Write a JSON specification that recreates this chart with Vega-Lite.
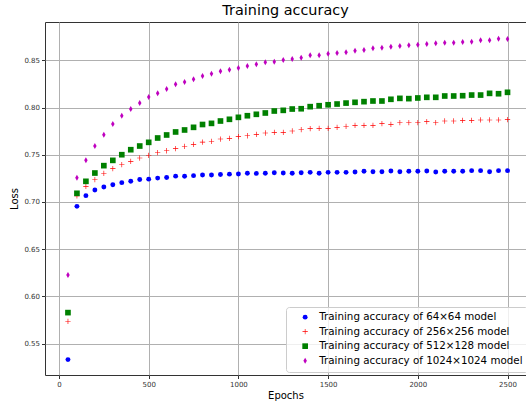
{
  "$schema": "https://vega.github.io/schema/vega-lite/v6.json",
  "width": 481,
  "height": 353,
  "autosize": {"type": "none"},
  "padding": {"left": 45, "top": 22, "right": 0, "bottom": 27},
  "background": "white",
  "title": {"text": "Training accuracy", "fontSize": 14.4, "font": "DejaVu Sans", "fontWeight": "normal", "color": "black", "offset": 4, "anchor": "middle"},
  "config": {
    "view": {"stroke": "#333333", "strokeWidth": 1},
    "font": "DejaVu Sans",
    "axis": {"labelFont": "DejaVu Sans", "labelFontSize": 7, "labelColor": "#333333", "tickColor": "#333333", "tickSize": 3.5, "domain": false, "grid": true, "gridColor": "#b0b0b0", "gridWidth": 1, "titleFont": "DejaVu Sans", "titleFontSize": 10, "titleFontWeight": "normal", "titleColor": "black", "labelPadding": 2},
    "legend": {"orient": "none", "legendX": 241, "legendY": 285, "fillColor": "rgba(255,255,255,0.8)", "strokeColor": "#cccccc", "cornerRadius": 3, "padding": 5, "labelFont": "DejaVu Sans", "labelFontSize": 10.3, "labelColor": "black", "labelLimit": 0, "rowPadding": 2.5, "labelOffset": 9, "symbolOffset": 9, "symbolOpacity": 1}
  },
  "data": {"values": [
    {"epoch":50,"model":"64×64","acc":0.533},{"epoch":100,"model":"64×64","acc":0.6954},{"epoch":150,"model":"64×64","acc":0.7067},{"epoch":200,"model":"64×64","acc":0.7127},{"epoch":250,"model":"64×64","acc":0.7159},{"epoch":300,"model":"64×64","acc":0.7183},{"epoch":350,"model":"64×64","acc":0.7205},{"epoch":400,"model":"64×64","acc":0.7219},{"epoch":450,"model":"64×64","acc":0.7238},{"epoch":500,"model":"64×64","acc":0.7242},
    {"epoch":550,"model":"64×64","acc":0.7253},{"epoch":600,"model":"64×64","acc":0.726},{"epoch":650,"model":"64×64","acc":0.7274},{"epoch":700,"model":"64×64","acc":0.7273},{"epoch":750,"model":"64×64","acc":0.7279},{"epoch":800,"model":"64×64","acc":0.7286},{"epoch":850,"model":"64×64","acc":0.7286},{"epoch":900,"model":"64×64","acc":0.7292},{"epoch":950,"model":"64×64","acc":0.7295},{"epoch":1000,"model":"64×64","acc":0.7296},
    {"epoch":1050,"model":"64×64","acc":0.7304},{"epoch":1100,"model":"64×64","acc":0.7303},{"epoch":1150,"model":"64×64","acc":0.7304},{"epoch":1200,"model":"64×64","acc":0.731},{"epoch":1250,"model":"64×64","acc":0.7307},{"epoch":1300,"model":"64×64","acc":0.7304},{"epoch":1350,"model":"64×64","acc":0.731},{"epoch":1400,"model":"64×64","acc":0.7314},{"epoch":1450,"model":"64×64","acc":0.7304},{"epoch":1500,"model":"64×64","acc":0.7314},
    {"epoch":1550,"model":"64×64","acc":0.7314},{"epoch":1600,"model":"64×64","acc":0.7314},{"epoch":1650,"model":"64×64","acc":0.7318},{"epoch":1700,"model":"64×64","acc":0.7325},{"epoch":1750,"model":"64×64","acc":0.7321},{"epoch":1800,"model":"64×64","acc":0.7321},{"epoch":1850,"model":"64×64","acc":0.7328},{"epoch":1900,"model":"64×64","acc":0.7321},{"epoch":1950,"model":"64×64","acc":0.7325},{"epoch":2000,"model":"64×64","acc":0.7325},
    {"epoch":2050,"model":"64×64","acc":0.7328},{"epoch":2100,"model":"64×64","acc":0.7318},{"epoch":2150,"model":"64×64","acc":0.7325},{"epoch":2200,"model":"64×64","acc":0.7325},{"epoch":2250,"model":"64×64","acc":0.7325},{"epoch":2300,"model":"64×64","acc":0.7332},{"epoch":2350,"model":"64×64","acc":0.7332},{"epoch":2400,"model":"64×64","acc":0.7321},{"epoch":2450,"model":"64×64","acc":0.7332},{"epoch":2500,"model":"64×64","acc":0.7332},

    {"epoch":50,"model":"256×256","acc":0.5736},{"epoch":100,"model":"256×256","acc":0.7064},{"epoch":150,"model":"256×256","acc":0.7166},{"epoch":200,"model":"256×256","acc":0.7236},{"epoch":250,"model":"256×256","acc":0.7304},{"epoch":300,"model":"256×256","acc":0.7353},{"epoch":350,"model":"256×256","acc":0.7395},{"epoch":400,"model":"256×256","acc":0.7431},{"epoch":450,"model":"256×256","acc":0.7466},{"epoch":500,"model":"256×256","acc":0.7495},
    {"epoch":550,"model":"256×256","acc":0.7522},{"epoch":600,"model":"256×256","acc":0.7543},{"epoch":650,"model":"256×256","acc":0.7565},{"epoch":700,"model":"256×256","acc":0.759},{"epoch":750,"model":"256×256","acc":0.7611},{"epoch":800,"model":"256×256","acc":0.7634},{"epoch":850,"model":"256×256","acc":0.7643},{"epoch":900,"model":"256×256","acc":0.7667},{"epoch":950,"model":"256×256","acc":0.7674},{"epoch":1000,"model":"256×256","acc":0.7692},
    {"epoch":1050,"model":"256×256","acc":0.7702},{"epoch":1100,"model":"256×256","acc":0.7717},{"epoch":1150,"model":"256×256","acc":0.7731},{"epoch":1200,"model":"256×256","acc":0.7738},{"epoch":1250,"model":"256×256","acc":0.7738},{"epoch":1300,"model":"256×256","acc":0.7752},{"epoch":1350,"model":"256×256","acc":0.7766},{"epoch":1400,"model":"256×256","acc":0.7777},{"epoch":1450,"model":"256×256","acc":0.778},{"epoch":1500,"model":"256×256","acc":0.778},
    {"epoch":1550,"model":"256×256","acc":0.7791},{"epoch":1600,"model":"256×256","acc":0.7802},{"epoch":1650,"model":"256×256","acc":0.7812},{"epoch":1700,"model":"256×256","acc":0.7812},{"epoch":1750,"model":"256×256","acc":0.7812},{"epoch":1800,"model":"256×256","acc":0.783},{"epoch":1850,"model":"256×256","acc":0.7823},{"epoch":1900,"model":"256×256","acc":0.784},{"epoch":1950,"model":"256×256","acc":0.784},{"epoch":2000,"model":"256×256","acc":0.784},
    {"epoch":2050,"model":"256×256","acc":0.7851},{"epoch":2100,"model":"256×256","acc":0.784},{"epoch":2150,"model":"256×256","acc":0.7858},{"epoch":2200,"model":"256×256","acc":0.7858},{"epoch":2250,"model":"256×256","acc":0.7865},{"epoch":2300,"model":"256×256","acc":0.7865},{"epoch":2350,"model":"256×256","acc":0.7869},{"epoch":2400,"model":"256×256","acc":0.7869},{"epoch":2450,"model":"256×256","acc":0.7869},{"epoch":2500,"model":"256×256","acc":0.7872},

    {"epoch":50,"model":"512×128","acc":0.5828},{"epoch":100,"model":"512×128","acc":0.7092},{"epoch":150,"model":"512×128","acc":0.7219},{"epoch":200,"model":"512×128","acc":0.7307},{"epoch":250,"model":"512×128","acc":0.7385},{"epoch":300,"model":"512×128","acc":0.7441},{"epoch":350,"model":"512×128","acc":0.7501},{"epoch":400,"model":"512×128","acc":0.7554},{"epoch":450,"model":"512×128","acc":0.7593},{"epoch":500,"model":"512×128","acc":0.7632},
    {"epoch":550,"model":"512×128","acc":0.7678},{"epoch":600,"model":"512×128","acc":0.771},{"epoch":650,"model":"512×128","acc":0.7742},{"epoch":700,"model":"512×128","acc":0.7763},{"epoch":750,"model":"512×128","acc":0.7791},{"epoch":800,"model":"512×128","acc":0.7821},{"epoch":850,"model":"512×128","acc":0.7833},{"epoch":900,"model":"512×128","acc":0.7858},{"epoch":950,"model":"512×128","acc":0.7876},{"epoch":1000,"model":"512×128","acc":0.7897},
    {"epoch":1050,"model":"512×128","acc":0.7914},{"epoch":1100,"model":"512×128","acc":0.7929},{"epoch":1150,"model":"512×128","acc":0.7943},{"epoch":1200,"model":"512×128","acc":0.7964},{"epoch":1250,"model":"512×128","acc":0.7971},{"epoch":1300,"model":"512×128","acc":0.7985},{"epoch":1350,"model":"512×128","acc":0.7988},{"epoch":1400,"model":"512×128","acc":0.801},{"epoch":1450,"model":"512×128","acc":0.802},{"epoch":1500,"model":"512×128","acc":0.803},
    {"epoch":1550,"model":"512×128","acc":0.8038},{"epoch":1600,"model":"512×128","acc":0.8048},{"epoch":1650,"model":"512×128","acc":0.8056},{"epoch":1700,"model":"512×128","acc":0.8063},{"epoch":1750,"model":"512×128","acc":0.807},{"epoch":1800,"model":"512×128","acc":0.807},{"epoch":1850,"model":"512×128","acc":0.8088},{"epoch":1900,"model":"512×128","acc":0.8098},{"epoch":1950,"model":"512×128","acc":0.8095},{"epoch":2000,"model":"512×128","acc":0.8102},
    {"epoch":2050,"model":"512×128","acc":0.8109},{"epoch":2100,"model":"512×128","acc":0.8109},{"epoch":2150,"model":"512×128","acc":0.8123},{"epoch":2200,"model":"512×128","acc":0.8123},{"epoch":2250,"model":"512×128","acc":0.8126},{"epoch":2300,"model":"512×128","acc":0.8133},{"epoch":2350,"model":"512×128","acc":0.8133},{"epoch":2400,"model":"512×128","acc":0.8151},{"epoch":2450,"model":"512×128","acc":0.8147},{"epoch":2500,"model":"512×128","acc":0.8162},

    {"epoch":50,"model":"1024×1024","acc":0.6227},{"epoch":100,"model":"1024×1024","acc":0.7258},{"epoch":150,"model":"1024×1024","acc":0.7441},{"epoch":200,"model":"1024×1024","acc":0.7593},{"epoch":250,"model":"1024×1024","acc":0.7713},{"epoch":300,"model":"1024×1024","acc":0.7826},{"epoch":350,"model":"1024×1024","acc":0.7914},{"epoch":400,"model":"1024×1024","acc":0.7985},{"epoch":450,"model":"1024×1024","acc":0.8048},{"epoch":500,"model":"1024×1024","acc":0.8112},
    {"epoch":550,"model":"1024×1024","acc":0.8151},{"epoch":600,"model":"1024×1024","acc":0.8197},{"epoch":650,"model":"1024×1024","acc":0.8247},{"epoch":700,"model":"1024×1024","acc":0.8271},{"epoch":750,"model":"1024×1024","acc":0.83},{"epoch":800,"model":"1024×1024","acc":0.8334},{"epoch":850,"model":"1024×1024","acc":0.8359},{"epoch":900,"model":"1024×1024","acc":0.8384},{"epoch":950,"model":"1024×1024","acc":0.8402},{"epoch":1000,"model":"1024×1024","acc":0.842},
    {"epoch":1050,"model":"1024×1024","acc":0.8441},{"epoch":1100,"model":"1024×1024","acc":0.8459},{"epoch":1150,"model":"1024×1024","acc":0.848},{"epoch":1200,"model":"1024×1024","acc":0.8486},{"epoch":1250,"model":"1024×1024","acc":0.8504},{"epoch":1300,"model":"1024×1024","acc":0.8515},{"epoch":1350,"model":"1024×1024","acc":0.8529},{"epoch":1400,"model":"1024×1024","acc":0.8554},{"epoch":1450,"model":"1024×1024","acc":0.8554},{"epoch":1500,"model":"1024×1024","acc":0.8571},
    {"epoch":1550,"model":"1024×1024","acc":0.8578},{"epoch":1600,"model":"1024×1024","acc":0.8586},{"epoch":1650,"model":"1024×1024","acc":0.8603},{"epoch":1700,"model":"1024×1024","acc":0.861},{"epoch":1750,"model":"1024×1024","acc":0.8628},{"epoch":1800,"model":"1024×1024","acc":0.8635},{"epoch":1850,"model":"1024×1024","acc":0.8645},{"epoch":1900,"model":"1024×1024","acc":0.8653},{"epoch":1950,"model":"1024×1024","acc":0.866},{"epoch":2000,"model":"1024×1024","acc":0.8666},
    {"epoch":2050,"model":"1024×1024","acc":0.8674},{"epoch":2100,"model":"1024×1024","acc":0.8681},{"epoch":2150,"model":"1024×1024","acc":0.8688},{"epoch":2200,"model":"1024×1024","acc":0.8688},{"epoch":2250,"model":"1024×1024","acc":0.8695},{"epoch":2300,"model":"1024×1024","acc":0.8698},{"epoch":2350,"model":"1024×1024","acc":0.8713},{"epoch":2400,"model":"1024×1024","acc":0.8713},{"epoch":2450,"model":"1024×1024","acc":0.873},{"epoch":2500,"model":"1024×1024","acc":0.8726}
  ]},
  "mark": {"type": "point", "filled": true, "opacity": 1},
  "encoding": {
    "x": {"field": "epoch", "type": "quantitative", "scale": {"domain": [-78, 2603], "nice": false, "zero": false},
      "axis": {"values": [0, 500, 1000, 1500, 2000, 2500], "format": "d", "title": "Epochs", "titlePadding": 3}},
    "y": {"field": "acc", "type": "quantitative", "scale": {"domain": [0.5167, 0.8907], "nice": false, "zero": false},
      "axis": {"values": [0.55, 0.6, 0.65, 0.7, 0.75, 0.8, 0.85], "format": ".2f", "title": "Loss", "titlePadding": 4}},
    "color": {"field": "model", "type": "nominal",
      "scale": {"domain": ["64×64", "256×256", "512×128", "1024×1024"], "range": ["#0000ff", "#ff0000", "#008000", "#bf00bf"]},
      "legend": {"title": null, "labelExpr": "'Training accuracy of ' + datum.label + ' model'"}},
    "shape": {"field": "model", "type": "nominal",
      "scale": {"domain": ["64×64", "256×256", "512×128", "1024×1024"], "range": ["circle", "M-1,-0.12H-0.12V-1H0.12V-0.12H1V0.12H0.12V1H-0.12V0.12H-1Z", "square", "M0,-1L0.58,0L0,1L-0.58,0Z"]},
      "legend": {"title": null, "labelExpr": "'Training accuracy of ' + datum.label + ' model'"}},
    "size": {"field": "model", "type": "nominal",
      "scale": {"domain": ["64×64", "256×256", "512×128", "1024×1024"], "range": [24, 36, 30, 49]},
      "legend": {"title": null, "labelExpr": "'Training accuracy of ' + datum.label + ' model'"}}
  }
}
